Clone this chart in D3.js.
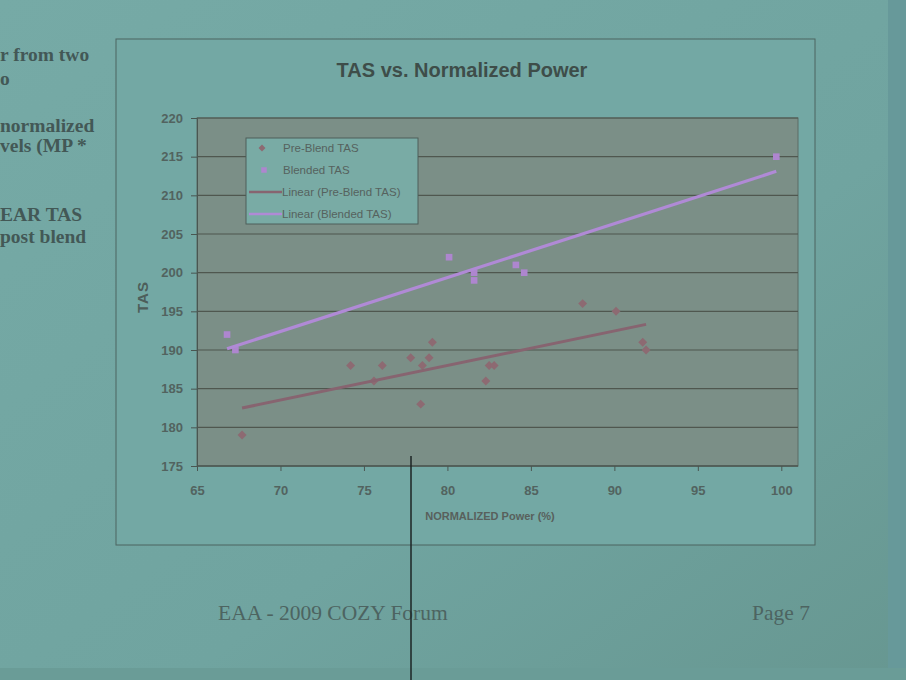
<!DOCTYPE html>
<html><head><meta charset="utf-8">
<script src="https://cdn.jsdelivr.net/npm/d3@7"></script>
<style>
html,body{margin:0;padding:0;background:#6fa39f;}
svg{display:block;}
</style></head>
<body>
<svg id="c" width="906" height="680"></svg>
<script>
// ---- data ----
const xTicks = [65,70,75,80,85,90,95,100];
const yTicks = [175,180,185,190,195,200,205,210,215,220];
const preBlendPower = [67.7,74.2,75.6,76.1,77.8,78.4,78.5,78.9,79.1,82.3,82.5,82.8,88.1,90.1,91.7,91.9];
const preBlendTAS   = [179,188,186,188,189,183,188,189,191,186,188,188,196,195,191,190];
const blendedPower  = [66.8,67.3,80.1,81.6,81.6,84.1,84.6,99.7];
const blendedTAS    = [192,190,202,200,199,201,200,215];
const seriesNames = ["Pre-Blend TAS","Blended TAS","Linear (Pre-Blend TAS)","Linear (Blended TAS)"];
const slideLines = [
  {t:"r from two", y:61},{t:"o", y:85},
  {t:"normalized", y:132},{t:"vels (MP *", y:152},
  {t:"EAR TAS", y:221},{t:"post blend", y:243}
];

const svg = d3.select("#c");
const W=906,H=680;
// slide background
const defs = svg.append("defs");
const g1 = defs.append("linearGradient").attr("id","bg").attr("x1","0").attr("y1","0").attr("x2","1").attr("y2","1");
g1.append("stop").attr("offset","0").attr("stop-color","#76aaa6");
g1.append("stop").attr("offset","0.6").attr("stop-color","#70a4a0");
g1.append("stop").attr("offset","1").attr("stop-color","#679791");
svg.append("rect").attr("width",W).attr("height",H).attr("fill","url(#bg)");
svg.append("rect").attr("x",888).attr("y",0).attr("width",18).attr("height",H).attr("fill","#67999a");
svg.append("rect").attr("x",0).attr("y",668).attr("width",W).attr("height",12).attr("fill","#6a9c97");

// slide text fragments
svg.append("g").selectAll("text").data(slideLines).join("text")
  .attr("x",0).attr("y",d=>d.y).text(d=>d.t)
  .attr("font-family","Liberation Serif, serif").attr("font-size",19.5).attr("font-weight","bold")
  .attr("fill","#435856");

// chart frame
svg.append("rect").attr("x",116).attr("y",39).attr("width",699).attr("height",506)
  .attr("fill","#73a8a4").attr("stroke","#4d6461").attr("stroke-width",1);

// title
svg.append("text").attr("x",462).attr("y",77).attr("text-anchor","middle")
  .attr("font-family","Liberation Sans, Arial, sans-serif").attr("font-size",20).attr("font-weight","bold")
  .attr("fill","#3e4d49").text("TAS vs. Normalized Power");

const x = d3.scaleLinear().domain([65,101]).range([197,798]);
const y = d3.scaleLinear().domain([175,220]).range([466,118]);

// plot area
svg.append("rect").attr("x",x(65)).attr("y",y(220)).attr("width",x(101)-x(65)).attr("height",y(175)-y(220))
  .attr("fill","#7b8f87").attr("stroke","#5c6a64").attr("stroke-width",1);

// gridlines
svg.append("g").selectAll("line").data(yTicks).join("line")
  .attr("x1",x(65)).attr("x2",x(101)).attr("y1",d=>y(d)).attr("y2",d=>y(d))
  .attr("stroke","#4f574f").attr("stroke-width",1.2);

// axes
const yAxis = svg.append("g").attr("transform",`translate(${x(65)},0)`)
  .call(d3.axisLeft(y).tickValues(yTicks).tickSize(6).tickPadding(8));
const xAxis = svg.append("g").attr("transform",`translate(0,${y(175)})`)
  .call(d3.axisBottom(x).tickValues(xTicks).tickSize(5).tickPadding(15));
[yAxis,xAxis].forEach(a=>{
  a.select(".domain").attr("stroke","#4a5651");
  a.selectAll(".tick line").attr("stroke","#4a5651");
  a.selectAll("text").attr("font-family","Liberation Sans, Arial, sans-serif")
   .attr("font-size",13).attr("font-weight","bold").attr("fill","#52635f");
});
xAxis.select(".domain").attr("d",`M${x(65)},0H${x(101)}`);

// axis titles
svg.append("text").attr("transform","translate(148,297) rotate(-90)").attr("text-anchor","middle")
  .attr("font-family","Liberation Sans, Arial, sans-serif").attr("font-size",15).attr("font-weight","bold")
  .attr("letter-spacing",1).attr("fill","#4d5e5a").text("TAS");
svg.append("text").attr("x",490).attr("y",520).attr("text-anchor","middle")
  .attr("font-family","Liberation Sans Narrow, Liberation Sans, Arial, sans-serif").attr("font-size",11).attr("font-weight","bold")
  .attr("fill","#58605c").text("NORMALIZED Power (%)");

// regression
function fit(xs,ys){
  const mx=d3.mean(xs), my=d3.mean(ys);
  const b=d3.sum(xs,(v,i)=>(v-mx)*(ys[i]-my))/d3.sum(xs,v=>(v-mx)*(v-mx));
  const a=my-b*mx;
  const [x0,x1]=d3.extent(xs);
  return [[x0,a+b*x0],[x1,a+b*x1]];
}
const preCol="#8d6a72", blendCol="#ae86cf";
const preLineCol="#876470", blendLineCol="#b08ad6";
const line = d3.line().x(d=>x(d[0])).y(d=>y(d[1]));

// points
const pre = preBlendPower.map((p,i)=>[p,preBlendTAS[i]]);
const bl = blendedPower.map((p,i)=>[p,blendedTAS[i]]);
svg.append("g").selectAll("path").data(pre).join("path")
  .attr("d",d3.symbol(d3.symbolSquare,40)).attr("transform",d=>`translate(${x(d[0])},${y(d[1])}) rotate(45)`)
  .attr("fill",preCol);
svg.append("g").selectAll("path").data(bl).join("path")
  .attr("d",d3.symbol(d3.symbolSquare,44)).attr("transform",d=>`translate(${x(d[0])},${y(d[1])})`)
  .attr("fill",blendCol);

// trend lines
svg.append("path").attr("d",line(fit(preBlendPower,preBlendTAS))).attr("stroke",preLineCol)
  .attr("stroke-width",3).attr("fill","none");
svg.append("path").attr("d",line(fit(blendedPower,blendedTAS))).attr("stroke",blendLineCol)
  .attr("stroke-width",3.2).attr("fill","none");

// legend
const lg = svg.append("g");
lg.append("rect").attr("x",246).attr("y",138).attr("width",172).attr("height",86)
  .attr("fill","#79aba5").attr("stroke","#4f5f5a").attr("stroke-width",1);
const rows=[148,170,192,214];
lg.append("path").attr("d",d3.symbol(d3.symbolSquare,24)).attr("transform",`translate(262,${rows[0]}) rotate(45)`).attr("fill",preCol);
lg.append("path").attr("d",d3.symbol(d3.symbolSquare,30)).attr("transform",`translate(264,${rows[1]})`).attr("fill",blendCol);
lg.append("line").attr("x1",249).attr("x2",282).attr("y1",rows[2]).attr("y2",rows[2]).attr("stroke",preLineCol).attr("stroke-width",2.5);
lg.append("line").attr("x1",249).attr("x2",282).attr("y1",rows[3]).attr("y2",rows[3]).attr("stroke",blendLineCol).attr("stroke-width",2.5);
lg.selectAll("text.l").data(seriesNames).join("text").attr("class","l")
  .attr("x",(d,i)=>i<2?283:282).attr("y",(d,i)=>rows[i]+4)
  .attr("font-family","Liberation Sans Narrow, Liberation Sans, Arial, sans-serif").attr("font-size",11.5)
  .attr("fill","#56625e").text(d=>d);

// footer
svg.append("text").attr("x",218).attr("y",620).attr("font-family","Liberation Serif, serif").attr("font-size",21.5)
  .attr("fill","#4d6461").text("EAA - 2009 COZY Forum");
svg.append("text").attr("x",810).attr("y",620).attr("text-anchor","end").attr("font-family","Liberation Serif, serif").attr("font-size",21.5)
  .attr("fill","#4d6461").text("Page 7");

// pointer line from photo
svg.append("line").attr("x1",411).attr("x2",411).attr("y1",456).attr("y2",680).attr("stroke","#1c2424").attr("stroke-width",1.5);
</script>
</body></html>
